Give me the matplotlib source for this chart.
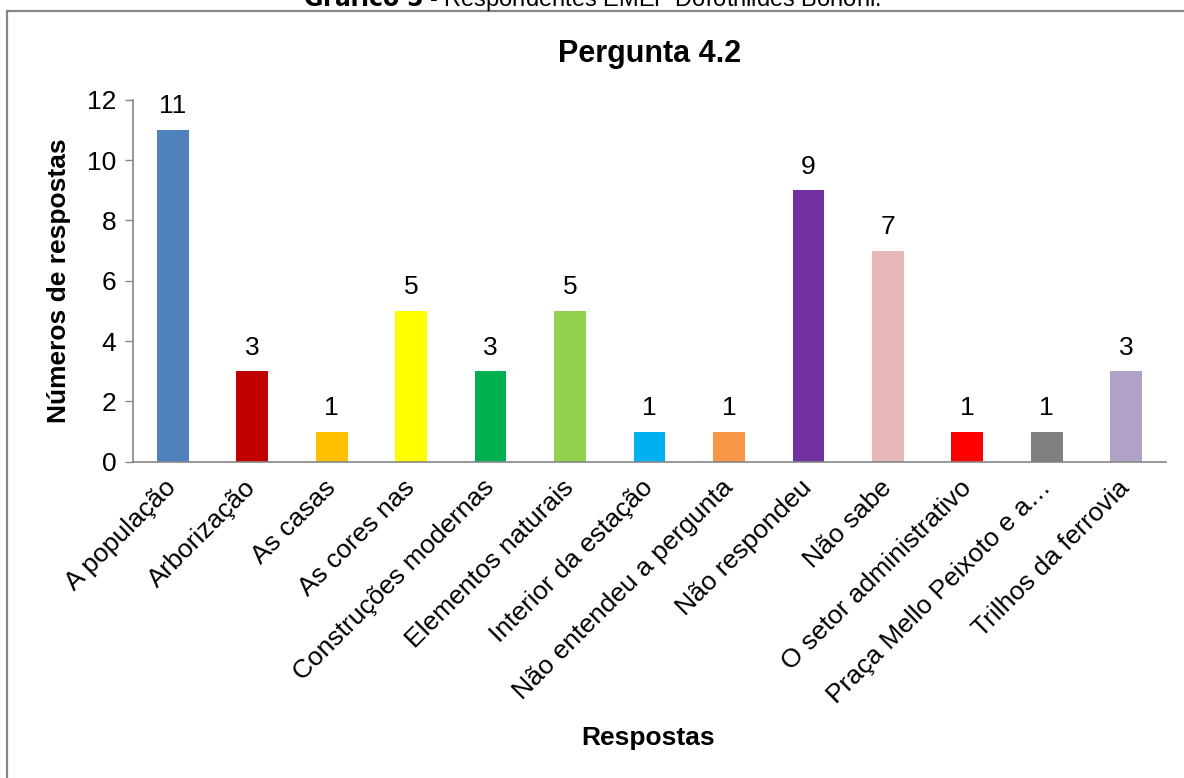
import matplotlib.pyplot as plt
from matplotlib.patches import Rectangle
from matplotlib.transforms import ScaledTranslation

plt.rcParams['font.family'] = ['Liberation Sans', 'DejaVu Sans']

# dados do gráfico
categorias = ["A população", "Arborização", "As casas", "As cores nas",
              "Construções modernas", "Elementos naturais", "Interior da estação",
              "Não entendeu a pergunta", "Não respondeu", "Não sabe",
              "O setor administrativo", "Praça Mello Peixoto e a…", "Trilhos da ferrovia"]
respostas = [11, 3, 1, 5, 3, 5, 1, 1, 9, 7, 1, 1, 3]
cores = ["#4F81BD", "#C00000", "#FFC000", "#FFFF00", "#00B050", "#92D050", "#00B0F0",
         "#F79646", "#7030A0", "#E6B9B8", "#FF0000", "#808080", "#B2A1C7"]

fig = plt.figure(figsize=(11.84, 7.78), dpi=100)

# moldura do gráfico (cortada à direita e embaixo)
fig.patches.append(Rectangle((7 / 1184, -0.1), 1.2, 1 - 10.5 / 778 + 0.1,
                             transform=fig.transFigure, fill=False,
                             edgecolor="#868686", linewidth=1.6))
fig.text(0.5, 1 - 6 / 778, r"$\mathbf{Gráfico\ 5}$ - Respondentes EMEF Dorothildes Bononi.",
         ha="center", va="baseline", fontsize=17)

ax = fig.add_axes([133 / 1184, 1 - 461.7 / 778, 1033 / 1184, 362 / 778])
x = range(len(categorias))
ax.bar(x, respostas, width=0.4, color=cores)
for xi, v in zip(x, respostas):
    ax.text(xi, v + 0.38, str(v), ha="center", va="bottom", fontsize=19)

ax.set_xlim(-0.5, len(categorias) - 0.5)
ax.set_ylim(0, 12)
ax.set_yticks(range(0, 13, 2))
ax.set_xticks(list(x))
ax.set_xticklabels(categorias, rotation=45, ha="right", va="center",
                   rotation_mode="anchor", fontsize=19)
desloc = ScaledTranslation(7 / 100, -2 / 100, fig.dpi_scale_trans)
for lbl in ax.get_xticklabels():
    lbl.set_transform(lbl.get_transform() + desloc)
ax.tick_params(axis="x", length=0, pad=16)
ax.tick_params(axis="y", length=6, width=1, color="#868686", labelsize=19, pad=6)
for s in ["top", "right"]:
    ax.spines[s].set_visible(False)
for s in ["left", "bottom"]:
    ax.spines[s].set_color("#868686")
    ax.spines[s].set_linewidth(1.2)

ax.set_title("Pergunta 4.2", fontsize=22, fontweight="bold", pad=27)
fig.text(59 / 1184, 1 - 281 / 778, "Números de respostas", rotation=90,
         ha="center", va="center", fontsize=19, fontweight="bold")
fig.text(648 / 1184, 1 - 738 / 778, "Respostas", ha="center", va="center",
         fontsize=19, fontweight="bold")

fig.savefig("out.png", dpi=100, facecolor="white")
